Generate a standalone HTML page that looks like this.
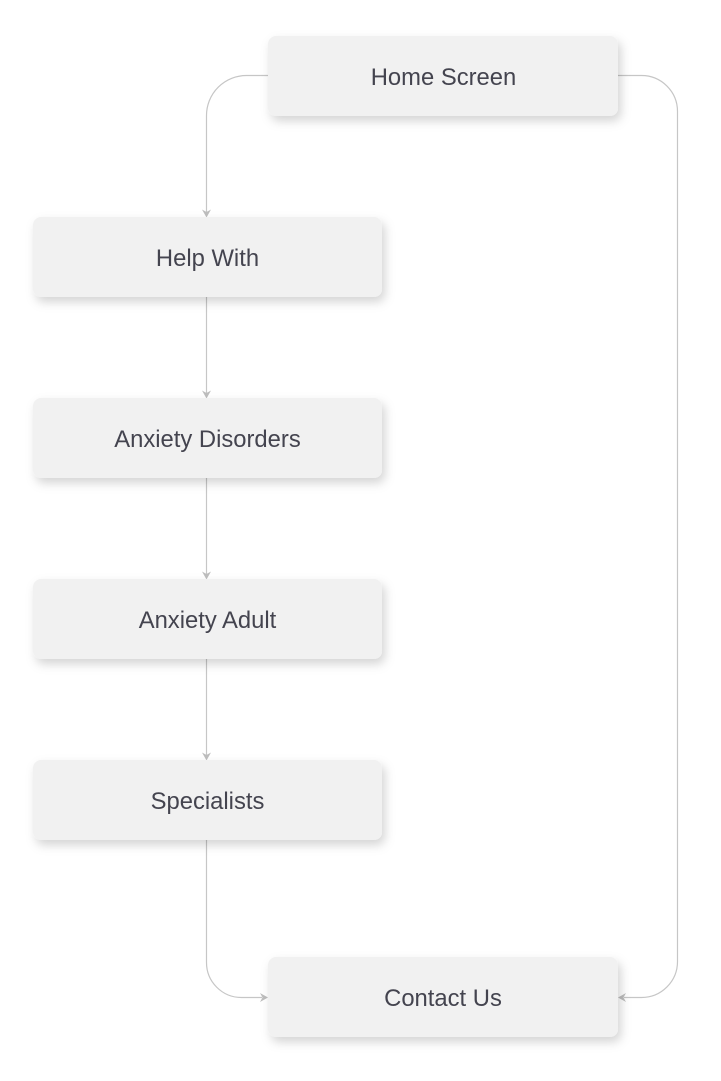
<!DOCTYPE html>
<html>
<head>
<meta charset="utf-8">
<style>
  html, body { margin: 0; padding: 0; background: #ffffff; }
  body { width: 721px; height: 1081px; overflow: hidden; }
  svg { display: block; }
  text { font-family: "Liberation Sans", sans-serif; font-size: 23.8px; fill: #44444f; }
</style>
</head>
<body>
<svg width="721" height="1081" viewBox="0 0 721 1081" xmlns="http://www.w3.org/2000/svg">
  <defs>
    <filter id="sh" x="-10%" y="-30%" width="125%" height="170%">
      <feDropShadow dx="3" dy="5" stdDeviation="5" flood-color="#000" flood-opacity="0.17"/>
    </filter>
  </defs>

  <!-- connectors -->
  <g fill="none" stroke="#c6c6c6" stroke-width="1.2">
    <path d="M268,75.5 H246.5 A40,40 0 0 0 206.5,115.5 V212"/>
    <path d="M618,75.5 H641.5 A36,36 0 0 1 677.5,111.5 V961.5 A36,36 0 0 1 641.5,997.5 H624"/>
    <path d="M206.5,297 V393"/>
    <path d="M206.5,478 V574"/>
    <path d="M206.5,659 V755"/>
    <path d="M206.5,840 V962.5 A35,35 0 0 0 241.5,997.5 H262"/>
  </g>
  <!-- arrowheads -->
  <g fill="#bdbdbd">
    <path d="M202,209.5 L206.5,212 L211,209.5 L206.5,217.5 Z"/>
    <path d="M202,390.5 L206.5,393 L211,390.5 L206.5,398.5 Z"/>
    <path d="M202,571.5 L206.5,574 L211,571.5 L206.5,579.5 Z"/>
    <path d="M202,752.5 L206.5,755 L211,752.5 L206.5,760.5 Z"/>
    <path d="M260,993 L262.5,997.5 L260,1002 L268,997.5 Z"/>
    <path d="M626,993 L623.5,997.5 L626,1002 L618,997.5 Z"/>
  </g>

  <!-- nodes -->
  <g fill="#f1f1f1" filter="url(#sh)">
    <rect x="268" y="36" width="350" height="80" rx="8"/>
    <rect x="33" y="217" width="349" height="80" rx="8"/>
    <rect x="33" y="398" width="349" height="80" rx="8"/>
    <rect x="33" y="579" width="349" height="80" rx="8"/>
    <rect x="33" y="760" width="349" height="80" rx="8"/>
    <rect x="268" y="957" width="350" height="80" rx="8"/>
  </g>

  <g text-anchor="middle">
    <text x="443.5" y="85">Home Screen</text>
    <text x="207.5" y="266">Help With</text>
    <text x="207.5" y="447">Anxiety Disorders</text>
    <text x="207.5" y="628">Anxiety Adult</text>
    <text x="207.5" y="809">Specialists</text>
    <text x="443" y="1006">Contact Us</text>
  </g>
</svg>
</body>
</html>
